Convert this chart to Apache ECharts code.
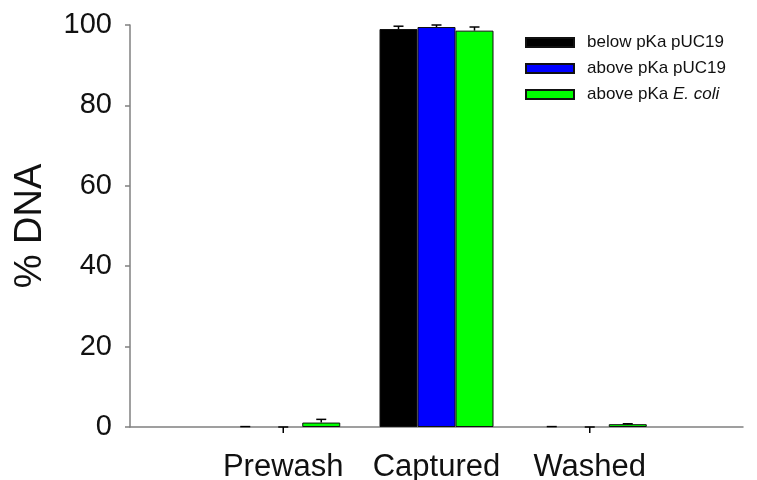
<!DOCTYPE html>
<html>
<head>
<meta charset="utf-8">
<title>% DNA by stage</title>
<script src="https://cdn.jsdelivr.net/npm/echarts@6/dist/echarts.min.js"></script>
<style>
  html, body { margin: 0; padding: 0; background: #fff; }
  #chart { width: 757px; height: 480px; }
</style>
</head>
<body>
<div id="chart"></div>
<script>
// Stages along the x axis (blank slots pad the ends of the axis)
const categories = ['', 'Prewash', 'Captured', 'Washed', ''];

// Mean % DNA and error per stage
const seriesNames = ['below pKa pUC19', 'above pKa pUC19', 'above pKa E. coli'];
const belowPUC19 = [null, 0, 99.0, 0, null];
const belowPUC19Err = [null, 0.1, 0.7, 0.1, null];
const abovePUC19 = [null, -1.5, 99.5, -1.5, null];
const abovePUC19Err = [null, 1.5, 0.5, 1.5, null];
const aboveEcoli = [null, 1.1, 98.6, 0.7, null];
const aboveEcoliErr = [null, 0.8, 0.9, 0.1, null];

const yTicks = [0, 20, 40, 60, 80, 100];

const colors = ['#000000', '#0000ff', '#00ff00'];
const means = [belowPUC19, abovePUC19, aboveEcoli];
const errs = [belowPUC19Err, abovePUC19Err, aboveEcoliErr];

const FONT = '"Liberation Sans", Arial, sans-serif';
const BAR_W = 38;
const offsets = [-BAR_W, 0, BAR_W];

const chart = echarts.init(document.getElementById('chart'));

// Bars with no height get no outline, so the axis line stays visible
const barSeries = seriesNames.map((name, i) => ({
  name: name,
  type: 'bar',
  data: means[i].map(v => (v !== null && v <= 0
    ? { value: v, itemStyle: { borderWidth: 0 } }
    : v)),
  barWidth: BAR_W,
  barGap: '0%',
  itemStyle: { color: colors[i], borderColor: '#111', borderWidth: 1 },
  emphasis: { disabled: true },
  z: 2
}));

// Upper error whisker with a cap, drawn over each bar
const errorSeries = seriesNames.map((name, i) => {
  const rows = [];
  means[i].forEach((v, k) => {
    if (v !== null) rows.push([k, v, v + errs[i][k]]);
  });
  return {
    type: 'custom',
    name: name + ' error',
    clip: false,
    z: 3,
    silent: true,
    dimensions: ['x', 'mean', 'top'],
    encode: { x: 0, y: [1, 2] },
    data: rows,
    renderItem: function (params, api) {
      const k = api.value(0);
      const lo = api.coord([k, api.value(1)]);
      const hi = api.coord([k, api.value(2)]);
      const x = lo[0] + offsets[i];
      const cap = 5;
      const style = { stroke: '#000', lineWidth: 1.5, fill: null };
      return {
        type: 'group',
        children: [
          { type: 'line', shape: { x1: x, y1: lo[1], x2: x, y2: hi[1] }, style: style },
          { type: 'line', shape: { x1: x - cap, y1: hi[1], x2: x + cap, y2: hi[1] }, style: style }
        ]
      };
    }
  };
});

chart.setOption({
  animation: false,
  backgroundColor: '#ffffff',
  textStyle: { fontFamily: FONT },
  grid: { left: 130, right: 14, top: 25, bottom: 53, containLabel: false, outerBoundsMode: 'none' },
  legend: {
    data: seriesNames,
    orient: 'vertical',
    left: 525,
    top: 34,
    padding: 0,
    itemWidth: 48,
    itemHeight: 9,
    itemGap: 9,
    icon: 'rect',
    selectedMode: false,
    textStyle: {
      fontFamily: FONT,
      fontSize: 17,
      color: '#111',
      padding: [0, 0, 0, 8],
      rich: { i: { fontFamily: FONT, fontSize: 17, fontStyle: 'italic', color: '#111' } }
    },
    formatter: function (name) {
      return name === 'above pKa E. coli' ? 'above pKa {i|E. coli}' : name;
    }
  },
  xAxis: {
    type: 'category',
    data: categories,
    boundaryGap: false,
    axisLine: { show: true, lineStyle: { color: '#808080', width: 1.5 } },
    axisTick: { show: false },
    splitLine: { show: false },
    axisLabel: {
      fontFamily: FONT,
      fontSize: 31,
      color: '#111',
      margin: 25,
      interval: 0
    }
  },
  yAxis: {
    type: 'value',
    min: yTicks[0],
    max: yTicks[yTicks.length - 1],
    interval: 20,
    name: '% DNA',
    nameLocation: 'middle',
    nameGap: 80,
    nameTextStyle: { fontFamily: FONT, fontSize: 38, color: '#111' },
    axisLine: { show: true, lineStyle: { color: '#808080', width: 1.5 } },
    axisTick: { show: true, inside: false, length: 5, lineStyle: { color: '#808080', width: 1.5 } },
    splitLine: { show: false },
    axisLabel: {
      fontFamily: FONT,
      fontSize: 29,
      color: '#111',
      margin: 18
    }
  },
  series: barSeries.concat(errorSeries)
});
</script>
</body>
</html>
